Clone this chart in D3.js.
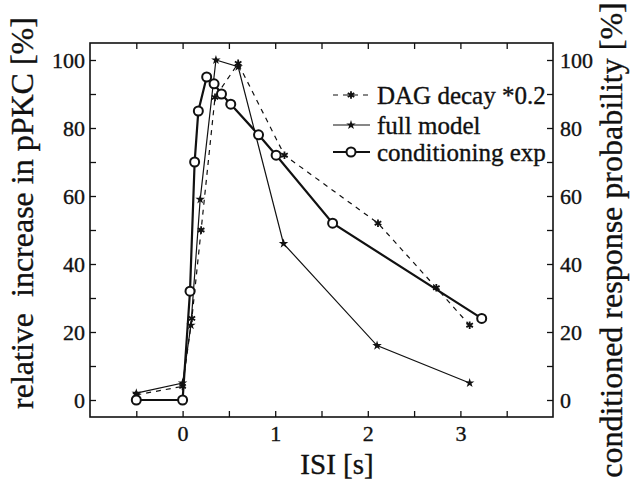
<!DOCTYPE html>
<html>
<head>
<meta charset="utf-8">
<script src="https://cdn.jsdelivr.net/npm/d3@7"></script>
<style>
    body { margin: 0; background: #fff; }
    text { font-family: "Liberation Serif", "DejaVu Serif", serif; fill: #111; stroke: #111; stroke-width: 0.35; }
</style>
</head>
<body>
<div class="chart"></div>
<script>
const svgWidth = 634;
const svgHeight = 483;

// DAG decay *0.2 (dashed, asterisk)
const isiDag = [-0.5, 0, 0.1, 0.2, 0.35, 0.6, 1.1, 2.11, 2.74, 3.1];
const dagValues = [1.5, 4, 24, 50, 89, 99, 72, 52, 33, 22];
// full model (thin solid, star)
const isiFull = [-0.5, 0, 0.09, 0.19, 0.36, 0.6, 1.09, 2.1, 3.1];
const fullValues = [2, 5, 22, 59, 100, 98, 46, 16, 5];
// conditioning exp (thick solid, open circle)
const isiCond = [-0.5, 0, 0.08, 0.13, 0.17, 0.26, 0.34, 0.42, 0.52, 0.82, 1.01, 1.62, 3.23];
const condValues = [0, 0, 32, 70, 85, 95, 93, 90, 87, 78, 72, 52, 24];

const xTicks = [-0.5, 0, 0.5, 1, 1.5, 2, 2.5, 3, 3.5];
const xLabels = [0, 1, 2, 3];
const yTicks = [0, 10, 20, 30, 40, 50, 60, 70, 80, 90, 100];
const yLabels = [0, 20, 40, 60, 80, 100];

const legendNames = ["DAG decay *0.2", "full model", "conditioning exp"];

const svg = d3.select(".chart")
    .append("svg")
    .attr("width", svgWidth)
    .attr("height", svgHeight);

// plot frame
const x0 = 90, x1 = 553, y0 = 43, y1 = 417;
const x = d3.scaleLinear().domain([-1, 4]).range([x0, x1]);
const y = d3.scaleLinear().domain([-5, 105]).range([y1, y0]);

const fmtX = d => xLabels.includes(d) ? d : "";
const fmtY = d => yLabels.includes(d) ? d : "";

// axes, ticks inward
const axisStyle = g => {
    g.select(".domain").remove();
    g.selectAll(".tick line").attr("stroke", "#111").attr("stroke-width", 1.3);
    g.selectAll("text").attr("font-size", 22).attr("fill", "#111")
        .style("font-family", "'Liberation Serif', serif");
};

svg.append("g").attr("transform", `translate(0,${y1})`)
    .call(d3.axisBottom(x).tickValues(xTicks).tickFormat(fmtX).tickSizeInner(-6).tickSizeOuter(0).tickPadding(8))
    .call(axisStyle);
svg.append("g").attr("transform", `translate(0,${y0})`)
    .call(d3.axisTop(x).tickValues(xTicks).tickFormat("").tickSizeInner(-6).tickSizeOuter(0))
    .call(axisStyle);
svg.append("g").attr("transform", `translate(${x0},0)`)
    .call(d3.axisLeft(y).tickValues(yTicks).tickFormat(fmtY).tickSizeInner(-6).tickSizeOuter(0).tickPadding(5))
    .call(axisStyle);
svg.append("g").attr("transform", `translate(${x1},0)`)
    .call(d3.axisRight(y).tickValues(yTicks).tickFormat(fmtY).tickSizeInner(-6).tickSizeOuter(0).tickPadding(7))
    .call(axisStyle);

svg.append("rect")
    .attr("x", x0).attr("y", y0)
    .attr("width", x1 - x0).attr("height", y1 - y0)
    .attr("fill", "none").attr("stroke", "#111").attr("stroke-width", 1.6);

// series
const line = d3.line().x(d => x(d[0])).y(d => y(d[1]));
const series = [
    { pts: d3.zip(isiDag, dagValues), dash: "5,5", width: 1.2, mark: "ast" },
    { pts: d3.zip(isiFull, fullValues), dash: null, width: 1.2, mark: "star" },
    { pts: d3.zip(isiCond, condValues), dash: null, width: 2.2, mark: "circle" }
];

const drawMark = (g, kind, cx, cy) => {
    if (kind === "circle") {
        g.append("circle").attr("cx", cx).attr("cy", cy).attr("r", 4.5)
            .attr("fill", "#fff").attr("stroke", "#111").attr("stroke-width", 2);
    } else if (kind === "star") {
        g.append("path").attr("d", d3.symbol(d3.symbolStar, 28)())
            .attr("transform", `translate(${cx},${cy})`).attr("fill", "#111");
    } else {
        g.append("path").attr("d", d3.symbol(d3.symbolAsterisk, 40)())
            .attr("transform", `translate(${cx},${cy})`)
            .attr("fill", "none").attr("stroke", "#111").attr("stroke-width", 1.8);
    }
};

series.forEach(s => {
    svg.append("path")
        .attr("d", line(s.pts))
        .attr("fill", "none")
        .attr("stroke", "#111")
        .attr("stroke-width", s.width)
        .attr("stroke-dasharray", s.dash);
    const g = svg.append("g");
    s.pts.forEach(p => drawMark(g, s.mark, x(p[0]), y(p[1])));
});

// legend
const legendY = [95, 125, 152];
series.forEach((s, i) => {
    const g = svg.append("g");
    g.append("line")
        .attr("x1", 333).attr("x2", 370)
        .attr("y1", legendY[i]).attr("y2", legendY[i])
        .attr("stroke", "#111").attr("stroke-width", s.width)
        .attr("stroke-dasharray", s.dash);
    drawMark(g, s.mark, 351, legendY[i]);
    g.append("text")
        .attr("x", 377).attr("y", legendY[i]).attr("dy", "0.35em")
        .attr("font-size", 25)
        .text(legendNames[i]);
});

// axis titles
svg.append("text")
    .attr("x", 337).attr("y", 474)
    .attr("text-anchor", "middle").attr("font-size", 29)
    .text("ISI [s]");
svg.append("text")
    .attr("transform", "translate(33,213) rotate(-90)")
    .attr("text-anchor", "middle").attr("font-size", 32)
    .attr("xml:space", "preserve")
    .text("relative  increase in pPKC [%]");
svg.append("text")
    .attr("transform", "translate(622,240) rotate(-90)")
    .attr("text-anchor", "middle").attr("font-size", 32)
    .text("conditioned response probability [%]");
</script>
</body>
</html>
